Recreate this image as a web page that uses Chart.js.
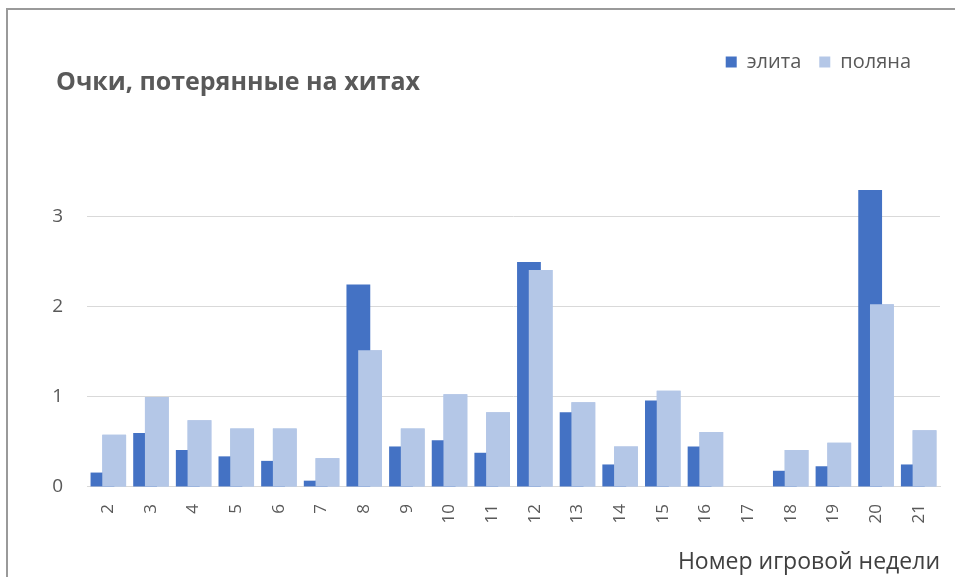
<!DOCTYPE html>
<html>
<head>
<meta charset="utf-8">
<script src="https://cdn.jsdelivr.net/npm/chart.js@4/dist/chart.umd.min.js"></script>
<style>
  html, body { margin: 0; padding: 0; background: #fff; }
  #wrap { position: relative; width: 955px; height: 577px; overflow: hidden; }
  #frame { position: absolute; left: 6px; top: 8px; right: -10px; bottom: -10px;
           border-top: 2px solid #9a9a9a; border-left: 2px solid #9a9a9a; }
  canvas { position: absolute; left: 0; top: 0; }
</style>
</head>
<body>
<div id="wrap">
  <div id="frame"></div>
  <canvas id="chart" width="955" height="577"></canvas>
</div>
<script>
// chart data
var weeks = ['2', '3', '4', '5', '6', '7', '8', '9', '10', '11', '12', '13', '14', '15', '16', '17', '18', '19', '20', '21'];
var elite = [0.16, 0.60, 0.41, 0.34, 0.29, 0.07, 2.25, 0.45, 0.52, 0.38, 2.50, 0.83, 0.25, 0.96, 0.45, 0, 0.18, 0.23, 3.30, 0.25];
var polyana = [0.58, 1.00, 0.74, 0.65, 0.65, 0.32, 1.52, 0.65, 1.03, 0.83, 2.41, 0.94, 0.45, 1.07, 0.61, 0, 0.41, 0.49, 2.03, 0.63];
var yTicks = [0, 1, 2, 3];

var textColor = '#595959';
var gridColor = '#d9d9d9';
var fontFamily = '"Open Sans", "Noto Sans", sans-serif';

// small layout nudges + excel draws the second series over the first one
var overlapPlugin = {
    id: 'overlap',
    afterLayout: function(chart) {
        chart.legend.left -= 11;
        chart.legend.right -= 11;
        chart.titleBlock.left += 16;
        chart.titleBlock.right += 16;
    },
    afterDatasetsDraw: function(chart) {
        var meta = chart.getDatasetMeta(1);
        if (!meta.hidden) {
            meta.controller.draw();
        }
    }
};

new Chart(document.getElementById('chart'), {
    type: 'bar',
    data: {
        labels: weeks,
        datasets: [
            { label: 'элита', data: elite, backgroundColor: '#4472c4' },
            { label: 'поляна', data: polyana, backgroundColor: '#b4c7e7' }
        ]
    },
    options: {
        responsive: false,
        animation: false,
        devicePixelRatio: 1,
        categoryPercentage: 0.55,
        barPercentage: 2.03,
        layout: { padding: { left: 40, right: 15, top: 34, bottom: 0 } },
        plugins: {
            tooltip: { enabled: false },
            legend: {
                position: 'top',
                align: 'end',
                weight: 3000,
                labels: {
                    boxWidth: 11,
                    boxHeight: 11,
                    padding: 18,
                    color: textColor,
                    font: { family: fontFamily, size: 20 }
                }
            },
            title: {
                display: true,
                text: 'Очки, потерянные на хитах',
                align: 'start',
                weight: 1000,
                color: textColor,
                font: { family: fontFamily, size: 25, weight: '700' },
                padding: { top: -14, bottom: 83 }
            }
        },
        scales: {
            x: {
                grid: { display: false },
                border: { display: true, color: gridColor, width: 1 },
                ticks: {
                    color: textColor,
                    font: { family: fontFamily, size: 17 },
                    minRotation: 90,
                    maxRotation: 90,
                    padding: 9
                },
                title: {
                    display: true,
                    text: 'Номер игровой недели',
                    align: 'end',
                    color: '#404040',
                    font: { family: fontFamily, size: 23 },
                    padding: { top: 16, bottom: 1 }
                }
            },
            y: {
                min: 0,
                max: 3.4,
                afterFit: function(scale) { scale.width = 47; },
                afterBuildTicks: function(scale) {
                    scale.ticks = yTicks.map(function(v) { return { value: v }; });
                },
                grid: { color: gridColor, drawTicks: false, lineWidth: 1 },
                border: { display: false },
                ticks: {
                    color: textColor,
                    font: { family: fontFamily, size: 19 },
                    padding: 24
                }
            }
        }
    },
    plugins: [overlapPlugin]
});
</script>
</body>
</html>
